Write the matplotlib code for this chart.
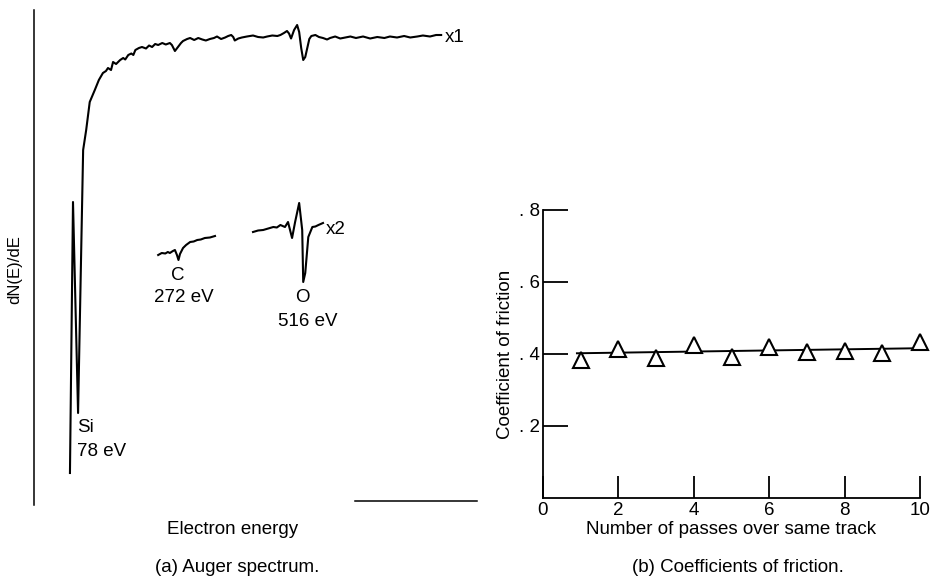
import matplotlib
matplotlib.use("Agg")
import matplotlib.pyplot as plt

plt.rcParams["font.family"] = ["Liberation Sans", "DejaVu Sans"]

# (a) Auger spectrum (energy in eV, dN(E)/dE in arbitrary units)
spec_energy = [62, 68, 78, 88, 94, 101, 111, 119, 127, 133, 137, 143, 147, 153, 157, 161,
               167, 171, 177, 183, 187, 191, 198, 204, 212, 218, 224, 230, 236, 244, 251,
               259, 263, 269, 275, 281, 285, 293, 299, 307, 315, 323, 330, 338, 346, 352,
               360, 368, 374, 380, 384, 387, 394, 401, 411, 423, 433, 443, 451, 461, 471,
               477, 484, 490, 494, 498, 504, 510, 514, 518, 522, 526, 530, 534, 538, 546,
               553, 561, 569, 575, 585, 595, 605, 615, 626, 640, 654, 668, 682, 693, 707,
               721, 733, 747, 758, 772, 784, 794]
spec_signal = [6.4, 60.6, 18.4, 71.0, 75.0, 80.6, 83.0, 85.0, 86.4, 86.8, 87.4, 87.0, 88.6,
               88.2, 88.6, 89.0, 89.4, 89.1, 90.0, 90.3, 90.0, 91.0, 91.4, 91.6, 91.3, 91.9,
               91.6, 92.2, 92.0, 92.4, 92.1, 92.4, 92.0, 90.8, 91.6, 92.4, 92.8, 93.2, 93.4,
               93.0, 93.4, 93.1, 92.9, 93.2, 93.4, 93.7, 93.2, 93.5, 93.8, 94.0, 93.6, 92.9,
               93.3, 93.5, 93.7, 93.9, 93.6, 93.5, 93.7, 93.9, 93.8, 94.0, 94.4, 94.8, 94.3,
               93.3, 95.0, 96.0, 94.6, 91.4, 89.0, 89.6, 91.4, 93.2, 93.8, 94.0, 93.6, 93.4,
               93.1, 93.4, 93.7, 93.3, 93.5, 93.7, 93.4, 93.7, 93.3, 93.6, 93.4, 93.7, 93.5,
               93.8, 93.5, 93.7, 93.9, 93.7, 94.0, 94.0]

# x2 insets
c_energy = [236, 243, 250, 255, 259, 265, 269, 273, 276, 279, 285, 291, 299, 306, 313, 320,
            328, 338, 348]
c_signal = [50.0, 50.4, 50.3, 50.6, 50.4, 50.8, 51.0, 50.0, 49.0, 50.2, 51.4, 52.0, 52.6,
            52.7, 53.0, 53.1, 53.4, 53.5, 53.8]
o_energy = [423, 433, 443, 453, 463, 470, 477, 486, 492, 500, 506, 514, 520, 522, 526, 532,
            540, 546, 552, 561]
o_signal = [54.6, 54.9, 55.0, 55.3, 55.6, 55.5, 56.0, 55.6, 56.6, 53.4, 56.6, 60.4, 55.0,
            44.6, 46.4, 53.6, 55.6, 55.7, 56.0, 56.4]
scale_bar_energy = [625, 865]

# (b) Coefficients of friction
passes = [1, 2, 3, 4, 5, 6, 7, 8, 9, 10]
friction = [0.383, 0.414, 0.390, 0.425, 0.393, 0.420, 0.405, 0.408, 0.404, 0.434]
fit_passes = [0.9, 9.95]
fit_friction = [0.402, 0.416]
x_ticks = [0, 2, 4, 6, 8, 10]
y_ticks = [0.2, 0.4, 0.6, 0.8]
y_tick_labels = [". 2", ". 4", ". 6", ". 8"]

W, H = 931, 585
fig = plt.figure(figsize=(W / 100, H / 100), dpi=100)

def px_box(x0, y0, x1, y1):
    return [x0 / W, 1 - y1 / H, (x1 - x0) / W, (y1 - y0) / H]

# ---- left panel
ax = fig.add_axes(px_box(34, 0, 480, 505))
ax.set_xlim(-8.9, 870.6)
ax.set_ylim(0, 101)
for s in ["top", "right", "bottom"]:
    ax.spines[s].set_visible(False)
ax.spines["left"].set_bounds(0, 99)
ax.spines["left"].set_linewidth(1.1)
ax.set_xticks([])
ax.set_yticks([])
ax.patch.set_alpha(0)

lw = 1.5
ax.plot(spec_energy, spec_signal, color="black", lw=lw)
ax.plot(c_energy, c_signal, color="black", lw=lw)
ax.plot(o_energy, o_signal, color="black", lw=lw)
ax.plot(scale_bar_energy, [0.8, 0.8], color="black", lw=1.1, clip_on=False)

fs = 13.5
ax.text(802, 93.4, "x1", fontsize=fs, va="center", ha="left")
ax.text(566, 55.2, "x2", fontsize=fs, va="center", ha="left")
ax.text(275, 45.8, "C", fontsize=fs, va="center", ha="center")
ax.text(287, 41.4, "272 eV", fontsize=fs, va="center", ha="center")
ax.text(520, 41.4, "O", fontsize=fs, va="center", ha="center")
ax.text(530, 36.8, "516 eV", fontsize=fs, va="center", ha="center")
ax.text(76, 15.4, "Si", fontsize=fs, va="center", ha="left")
ax.text(76, 10.6, "78 eV", fontsize=fs, va="center", ha="left")

fig.text(15 / W, 1 - 270 / H, "dN(E)/dE", rotation=90, fontsize=12, ha="center", va="center")
fig.text(233 / W, 1 - 530 / H, "Electron energy", fontsize=fs, ha="center", va="center")
fig.text(237 / W, 1 - 568 / H, "(a) Auger spectrum.", fontsize=fs, ha="center", va="center")

# ---- right panel
bx = fig.add_axes(px_box(543, 210, 920, 498))
bx.set_xlim(0, 10)
bx.set_ylim(0, 0.8)
for s in ["top", "right"]:
    bx.spines[s].set_visible(False)
for s in ["left", "bottom"]:
    bx.spines[s].set_linewidth(1.3)
bx.patch.set_alpha(0)

bx.plot(fit_passes, fit_friction, color="black", lw=1.4, clip_on=False)
bx.plot(passes, friction, linestyle="none", marker="^", markersize=11,
        markerfacecolor="white", markeredgecolor="black", markeredgewidth=1.5,
        clip_on=False, zorder=3)

bx.set_xticks(x_ticks)
bx.set_xticklabels([str(t) for t in x_ticks])
bx.set_yticks(y_ticks)
bx.set_yticklabels(y_tick_labels)
bx.tick_params(axis="x", direction="in", length=16, width=1.3, pad=3, labelsize=fs)
bx.tick_params(axis="y", direction="in", length=18, width=1.3, pad=2, labelsize=fs)

bx.set_ylabel("Coefficient of friction", fontsize=fs, labelpad=4)
bx.set_xlabel("Number of passes over same track", fontsize=fs, labelpad=1)
fig.text(738 / W, 1 - 568 / H, "(b) Coefficients of friction.", fontsize=fs,
         ha="center", va="center")

fig.savefig("out.png", dpi=100)
